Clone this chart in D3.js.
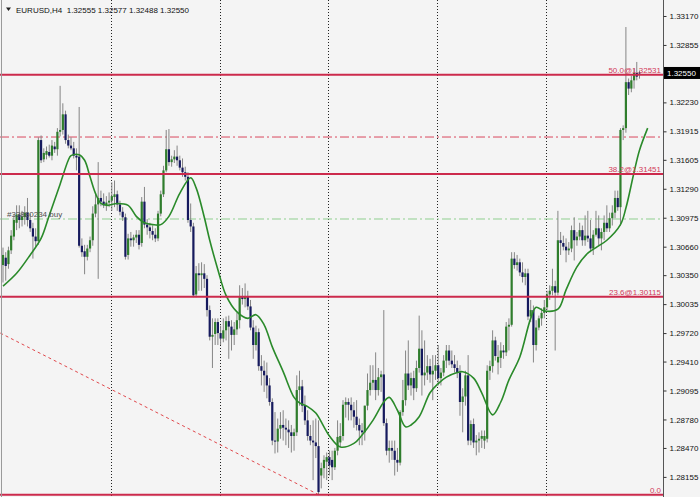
<!DOCTYPE html>
<html><head><meta charset="utf-8">
<script src="https://cdn.jsdelivr.net/npm/d3@7"></script>
<style>html,body{margin:0;padding:0;background:#f4f4f4;}svg{display:block;}</style>
</head><body>
<svg id="c" width="700" height="497"></svg>
<script>
const symbolName = "EURUSD,H4";
const headerValues = ["1.32555", "1.32577", "1.32488", "1.32550"];
const opens = [1.3046,1.3054,1.3047,1.3062,1.3077,1.3092,1.3101,1.3095,1.3098,1.3103,1.3095,1.3086,1.3077,1.3072,1.3182,1.3161,1.3166,1.3169,1.3165,1.3175,
1.3172,1.3191,1.3193,1.3210,1.3182,1.3176,1.3173,1.3165,1.3164,1.3067,1.3061,1.3055,1.3064,1.3073,1.3102,1.3112,1.3119,1.3115,1.3111,1.3114,
1.3116,1.3120,1.3123,1.3112,1.3104,1.3098,1.3057,1.3075,1.3073,1.3076,1.3079,1.3070,1.3115,1.3090,1.3087,1.3083,1.3079,1.3075,1.3102,1.3123,
1.3149,1.3172,1.3158,1.3161,1.3164,1.3160,1.3152,1.3147,1.3142,1.3095,1.3088,1.3014,1.3037,1.3035,1.3037,1.3031,1.2997,1.2968,1.2971,1.2984,
1.2972,1.2966,1.2975,1.2985,1.2979,1.2970,1.2976,1.2986,1.3011,1.3009,1.3012,1.3001,1.2978,1.2959,1.2973,1.2936,1.2931,1.2926,1.2915,1.2897,
1.2855,1.2854,1.2868,1.2872,1.2869,1.2867,1.2864,1.2860,1.2864,1.2910,1.2914,1.2893,1.2877,1.2860,1.2855,1.2853,1.2849,1.2817,1.2825,1.2832,
1.2837,1.2834,1.2826,1.2844,1.2853,1.2860,1.2894,1.2897,1.2894,1.2888,1.2881,1.2872,1.2866,1.2864,1.2893,1.2910,1.2918,1.2921,1.2910,1.2924,
1.2927,1.2874,1.2844,1.2847,1.2844,1.2834,1.2831,1.2886,1.2899,1.2928,1.2915,1.2923,1.2912,1.2934,1.2955,1.2926,1.2929,1.2936,1.2927,1.2931,
1.2937,1.2923,1.2929,1.2942,1.2953,1.2942,1.2938,1.2934,1.2929,1.2897,1.2903,1.2926,1.2855,1.2873,1.2853,1.2855,1.2857,1.2855,1.2857,1.2931,
1.2936,1.2964,1.2940,1.2945,1.2953,1.2951,1.2979,1.2981,1.3053,1.3046,1.3049,1.3038,1.3033,1.3037,1.2990,1.2997,1.2959,1.2978,1.2988,1.2994,
1.3000,1.3014,1.3018,1.3023,1.3016,1.3073,1.3070,1.3066,1.3062,1.3064,1.3084,1.3073,1.3077,1.3084,1.3073,1.3078,1.3075,1.3064,1.3079,1.3086,
1.3075,1.3082,1.3092,1.3086,1.3097,1.3103,1.3119,1.3109,1.3193,1.3195,1.3245,1.3238,1.3247,1.3255,1.32555];
const highs = [1.3065,1.3060,1.3066,1.3084,1.3101,1.3111,1.3111,1.3105,1.3110,1.3119,1.3102,1.3092,1.3086,1.3185,1.3187,1.3173,1.3175,1.3177,1.3182,1.3180,
1.3195,1.3241,1.3222,1.3214,1.3188,1.3185,1.3180,1.3173,1.3218,1.3075,1.3068,1.3068,1.3077,1.3110,1.3124,1.3158,1.3127,1.3124,1.3121,1.3125,
1.3136,1.3138,1.3127,1.3116,1.3109,1.3102,1.3080,1.3082,1.3079,1.3084,1.3084,1.3120,1.3131,1.3096,1.3092,1.3089,1.3086,1.3105,1.3127,1.3154,
1.3193,1.3194,1.3165,1.3171,1.3176,1.3165,1.3162,1.3153,1.3147,1.3113,1.3092,1.3045,1.3048,1.3049,1.3047,1.3035,1.3002,1.2988,1.2988,1.2988,
1.2980,1.2988,1.2990,1.2991,1.2986,1.2984,1.2994,1.3024,1.3021,1.3026,1.3018,1.3008,1.2986,1.2980,1.2977,1.2948,1.2942,1.2940,1.2923,1.2901,
1.2886,1.2879,1.2886,1.2888,1.2879,1.2877,1.2872,1.2868,1.2926,1.2931,1.2921,1.2904,1.2888,1.2872,1.2877,1.2879,1.2877,1.2831,1.2839,1.2842,
1.2844,1.2844,1.2847,1.2877,1.2874,1.2899,1.2902,1.2901,1.2902,1.2897,1.2899,1.2879,1.2874,1.2893,1.2928,1.2937,1.2937,1.2951,1.2934,1.2931,
1.2997,1.2879,1.2855,1.2855,1.2855,1.2847,1.2888,1.2921,1.2953,1.2964,1.2929,1.2931,1.2942,1.2991,1.2975,1.2964,1.2948,1.2944,1.2948,1.2948,
1.2959,1.2934,1.2948,1.2959,1.2959,1.2953,1.2948,1.2942,1.2937,1.2912,1.2931,1.2948,1.2877,1.2879,1.2861,1.2864,1.2866,1.2866,1.2937,1.2942,
1.2975,1.2968,1.2959,1.2962,1.2959,1.2984,1.2988,1.3060,1.3060,1.3057,1.3053,1.3049,1.3042,1.3042,1.3008,1.3002,1.2986,1.2991,1.2999,1.3008,
1.3018,1.3024,1.3042,1.3029,1.3105,1.3082,1.3078,1.3075,1.3071,1.3089,1.3098,1.3082,1.3092,1.3089,1.3100,1.3105,1.3095,1.3084,1.3105,1.3100,
1.3086,1.3100,1.3111,1.3103,1.3111,1.3127,1.3127,1.3195,1.3198,1.3305,1.3249,1.3252,1.3260,1.3267,1.32577];
const lows = [1.3027,1.3029,1.3042,1.3058,1.3073,1.3084,1.3086,1.3088,1.3090,1.3088,1.3082,1.3053,1.3066,1.3068,1.3157,1.3158,1.3161,1.3163,1.3160,1.3168,
1.3165,1.3186,1.3188,1.3178,1.3173,1.3171,1.3162,1.3149,1.3065,1.3055,1.3036,1.3051,1.3060,1.3067,1.3098,1.3031,1.3110,1.3108,1.3105,1.3109,
1.3105,1.3109,1.3105,1.3100,1.3094,1.3052,1.3052,1.3066,1.3066,1.3070,1.3063,1.3066,1.3086,1.3079,1.3075,1.3073,1.3071,1.3072,1.3099,1.3120,
1.3147,1.3154,1.3153,1.3157,1.3154,1.3149,1.3142,1.3138,1.3092,1.3082,1.3011,1.3011,1.3018,1.3018,1.3021,1.2990,1.2964,1.2934,1.2959,1.2959,
1.2959,1.2962,1.2964,1.2944,1.2953,1.2959,1.2970,1.2977,1.3003,1.3000,1.2997,1.2975,1.2944,1.2953,1.2931,1.2915,1.2908,1.2901,1.2893,1.2850,
1.2841,1.2842,1.2857,1.2855,1.2850,1.2847,1.2842,1.2844,1.2860,1.2893,1.2886,1.2872,1.2855,1.2850,1.2812,1.2836,1.27962,1.2803,1.2814,1.2812,
1.2817,1.2812,1.2823,1.2839,1.2848,1.2855,1.2880,1.2877,1.2877,1.2869,1.2866,1.2850,1.2850,1.2855,1.2888,1.2904,1.2910,1.2899,1.2904,1.2908,
1.2871,1.2839,1.2831,1.2834,1.2817,1.2821,1.2828,1.2882,1.2893,1.2910,1.2904,1.2899,1.2908,1.2929,1.2904,1.2915,1.2921,1.2918,1.2899,1.2921,
1.2915,1.2915,1.2925,1.2934,1.2937,1.2934,1.2929,1.2923,1.2882,1.2864,1.2893,1.2850,1.2850,1.2847,1.2839,1.2842,1.2847,1.2846,1.2853,1.2921,
1.2929,1.2942,1.2927,1.2934,1.2944,1.2947,1.2953,1.2979,1.3042,1.3040,1.3034,1.3027,1.3024,1.2986,1.2984,1.2940,1.2953,1.2975,1.2980,1.2988,
1.2997,1.3008,1.3013,1.2953,1.3013,1.3057,1.3062,1.3049,1.3057,1.3060,1.3051,1.3067,1.3073,1.3067,1.3067,1.3071,1.3060,1.3057,1.3077,1.3067,
1.3062,1.3073,1.3082,1.3082,1.3089,1.3097,1.3105,1.3089,1.3182,1.3190,1.3231,1.3234,1.3238,1.3247,1.32488];
const closes = [1.3057,1.3045,1.3062,1.3078,1.3095,1.3101,1.3095,1.3099,1.3103,1.3095,1.3086,1.3077,1.3072,1.3182,1.3160,1.3168,1.3170,1.3165,1.3176,1.3172,
1.3191,1.3193,1.3210,1.3182,1.3176,1.3173,1.3165,1.3163,1.3067,1.3060,1.3055,1.3064,1.3073,1.3102,1.3112,1.3119,1.3115,1.3111,1.3114,1.3116,
1.3121,1.3123,1.3112,1.3104,1.3098,1.3055,1.3075,1.3073,1.3076,1.3079,1.3068,1.3115,1.3090,1.3087,1.3083,1.3079,1.3075,1.3102,1.3123,1.3149,
1.3172,1.3158,1.3161,1.3164,1.3160,1.3152,1.3147,1.3142,1.3095,1.3088,1.3013,1.3037,1.3035,1.3037,1.3031,1.2997,1.2968,1.2970,1.2984,1.2972,
1.2966,1.2975,1.2985,1.2979,1.2970,1.2976,1.2986,1.3011,1.3009,1.3012,1.3001,1.2978,1.2959,1.2973,1.2936,1.2931,1.2926,1.2915,1.2897,1.2855,
1.2854,1.2868,1.2872,1.2869,1.2867,1.2864,1.2860,1.2864,1.2910,1.2914,1.2893,1.2877,1.2860,1.2855,1.2853,1.2849,1.2799,1.2825,1.2834,1.2837,
1.2828,1.2826,1.2844,1.2859,1.2860,1.2894,1.2897,1.2894,1.2888,1.2881,1.2872,1.2866,1.2864,1.2893,1.2910,1.2918,1.2921,1.2910,1.2924,1.2927,
1.2874,1.2844,1.2847,1.2844,1.2834,1.2831,1.2886,1.2899,1.2928,1.2915,1.2923,1.2912,1.2934,1.2955,1.2926,1.2929,1.2936,1.2927,1.2931,1.2937,
1.2923,1.2929,1.2942,1.2953,1.2942,1.2938,1.2934,1.2929,1.2897,1.2903,1.2926,1.2855,1.2873,1.2853,1.2855,1.2857,1.2860,1.2860,1.2931,1.2936,
1.2964,1.2947,1.2946,1.2953,1.2951,1.2979,1.2981,1.3053,1.3046,1.3049,1.3038,1.3033,1.3037,1.2990,1.2997,1.2959,1.2978,1.2988,1.2994,1.3000,
1.3014,1.3018,1.3023,1.3016,1.3073,1.3070,1.3066,1.3062,1.3064,1.3084,1.3073,1.3077,1.3084,1.3073,1.3078,1.3075,1.3064,1.3079,1.3086,1.3075,
1.3082,1.3092,1.3086,1.3097,1.3103,1.3119,1.3109,1.3193,1.3195,1.3245,1.3238,1.3247,1.3255,1.3251,1.32550];
// moving average (shifted forward), read at bar indices
const maIdx = [0,5,10,14,17,21,24,25,28,30,32,34,36,38,42,46,49,52,55,58,61,65,69,71,74,76,79,82,86,90,93,96,99,103,107,109,112,115,118,120,124,129,132,136,140,142,145,148,150,153,157,160,163,167,169,173,176,180,183,186,190,194,196,199,204,207,211,215,218,222,227,229,232,234,237];
const maVal = [1.3023,1.3037,1.3057,1.3075,1.3100,1.3134,1.3160,1.3165,1.3166,1.3160,1.3142,1.3124,1.3113,1.3111,1.3113,1.3111,1.3099,1.3092,1.3090,1.3090,1.3099,1.3124,1.3141,1.3130,1.3098,1.3073,1.3041,1.3013,1.2995,1.2988,1.2992,1.2981,1.2957,1.2930,1.2902,1.2896,1.2892,1.2885,1.2870,1.2860,1.2848,1.2852,1.2861,1.2877,1.2897,1.2902,1.2888,1.2870,1.2872,1.2881,1.2907,1.2917,1.2924,1.2929,1.2930,1.2923,1.2907,1.2883,1.2897,1.2921,1.2946,1.2988,1.3000,1.2996,1.2998,1.3019,1.3044,1.3059,1.3065,1.3073,1.3090,1.3108,1.3147,1.3171,1.3195];
const yTicks = [1.33170,1.32855,1.32230,1.31915,1.31605,1.31290,1.30975,1.30660,1.30350,1.30035,1.29720,1.29410,1.29095,1.28780,1.28470,1.28155];
const fibLevels = ["50.0","38.2","23.6","0.0"];
const fibPrices = [1.32531,1.31451,1.30115,1.27962];
const stopLine = 1.31853;
const buyLine = 1.30961;
const orderLabel = "#33880234 buy";
const trendIdx = [-1,116];
const trendVal = [1.2972,1.27962];
const gridIdx = [40,80,120,160,200];
const lastPrice = 1.32550;

const W = 700, H = 497, plotRight = 663.5;
const svg = d3.select("#c");
const N = closes.length;
const x = d3.scaleLinear().domain([0, N - 1]).range([3, 639.5]);
const y = d3.scaleLinear().domain([1.27958, 1.33344]).range([495, 0]);
const font = "'Liberation Sans', Arial, sans-serif";

svg.append("rect").attr("width", W).attr("height", H).attr("fill", "#f4f4f4");
const clip = svg.append("defs").append("clipPath").attr("id", "pc");
clip.append("rect").attr("x", 0).attr("y", 0).attr("width", plotRight).attr("height", H);
const plot = svg.append("g").attr("clip-path", "url(#pc)");

// vertical dotted grid
plot.selectAll("line.grid").data(gridIdx).enter().append("line")
  .attr("x1", d => Math.round(x(d)) - 0.5).attr("x2", d => Math.round(x(d)) - 0.5)
  .attr("y1", 0).attr("y2", H)
  .attr("stroke", "#222").attr("stroke-width", 1).attr("stroke-dasharray", "1,2");

// order lines
plot.append("line").attr("x1", 0).attr("x2", plotRight)
  .attr("y1", y(stopLine)).attr("y2", y(stopLine))
  .attr("stroke", "#d9485e").attr("stroke-width", 1).attr("stroke-dasharray", "9,3,2,3");
plot.append("line").attr("x1", 0).attr("x2", plotRight)
  .attr("y1", y(buyLine)).attr("y2", y(buyLine))
  .attr("stroke", "#8fcf8f").attr("stroke-width", 1).attr("stroke-dasharray", "9,3,2,3");

// trend line
plot.append("line")
  .attr("x1", x(trendIdx[0])).attr("y1", y(trendVal[0]))
  .attr("x2", x(trendIdx[1])).attr("y2", y(trendVal[1]))
  .attr("stroke", "#e0484c").attr("stroke-width", 1).attr("stroke-dasharray", "3,3");

// candles
const idx = d3.range(N);
const cg = plot.append("g");
cg.selectAll("line.wick").data(idx).enter().append("line")
  .attr("x1", i => x(i)).attr("x2", i => x(i))
  .attr("y1", i => y(highs[i])).attr("y2", i => y(lows[i]))
  .attr("stroke", "#858585").attr("stroke-width", 1);
cg.selectAll("rect.body").data(idx).enter().append("rect")
  .attr("x", i => x(i) - 1.1).attr("width", 2.2)
  .attr("y", i => y(Math.max(opens[i], closes[i])))
  .attr("height", i => Math.max(1, Math.abs(y(opens[i]) - y(closes[i]))))
  .attr("fill", i => closes[i] >= opens[i] ? "#2f7d2c" : "#161a5e");

// moving average
plot.append("path")
  .datum(maIdx.map((d, k) => [d, maVal[k]]))
  .attr("fill", "none").attr("stroke", "#2a8a2a").attr("stroke-width", 1.6)
  .attr("d", d3.line().x(d => x(d[0])).y(d => y(d[1])).curve(d3.curveCatmullRom.alpha(0.5)));

// fibonacci levels
fibPrices.forEach((p, k) => {
  plot.append("line").attr("x1", 0).attr("x2", plotRight)
    .attr("y1", y(p)).attr("y2", y(p))
    .attr("stroke", "#cc2a4c").attr("stroke-width", 2);
  svg.append("text").attr("x", 661).attr("y", y(p) - 2)
    .attr("text-anchor", "end").attr("font-family", font).attr("font-size", 8)
    .attr("fill", "#d23a5a")
    .text(fibLevels[k] === "0.0" ? "0.0" : fibLevels[k] + "@" + p.toFixed(5));
});

// order label
svg.append("text").attr("x", 7).attr("y", y(buyLine) - 2)
  .attr("font-family", font).attr("font-size", 8).attr("fill", "#505050").text(orderLabel);

// frame
svg.append("line").attr("x1", 1.5).attr("x2", 1.5).attr("y1", 0).attr("y2", H).attr("stroke", "#9a9a9a");
svg.append("line").attr("x1", plotRight).attr("x2", plotRight).attr("y1", 0).attr("y2", H).attr("stroke", "#555").attr("stroke-width", 1);

// right axis
const ax = svg.append("g").attr("transform", `translate(${plotRight},0)`)
  .call(d3.axisRight(y).tickValues(yTicks).tickSize(3).tickPadding(3).tickFormat(d3.format(".5f")));
ax.select(".domain").remove();
ax.selectAll("line").attr("stroke", "#333");
ax.selectAll("text").attr("font-family", font).attr("font-size", 8).attr("fill", "#111");

// current price box
svg.append("rect").attr("x", 664).attr("y", y(lastPrice) - 6).attr("width", 36).attr("height", 12).attr("fill", "#000");
svg.append("text").attr("x", 667).attr("y", y(lastPrice) + 3)
  .attr("font-family", font).attr("font-size", 8).attr("fill", "#fff").text(lastPrice.toFixed(5));

// header
svg.append("path").attr("d", "M6,7.5 L11,7.5 L8.5,11 Z").attr("fill", "#222");
svg.append("text").attr("x", 16).attr("y", 12.5)
  .attr("font-family", font).attr("font-size", 8).attr("fill", "#111")
  .attr("xml:space", "preserve")
  .text(symbolName + "  " + headerValues.join(" "));
</script>
</body></html>
